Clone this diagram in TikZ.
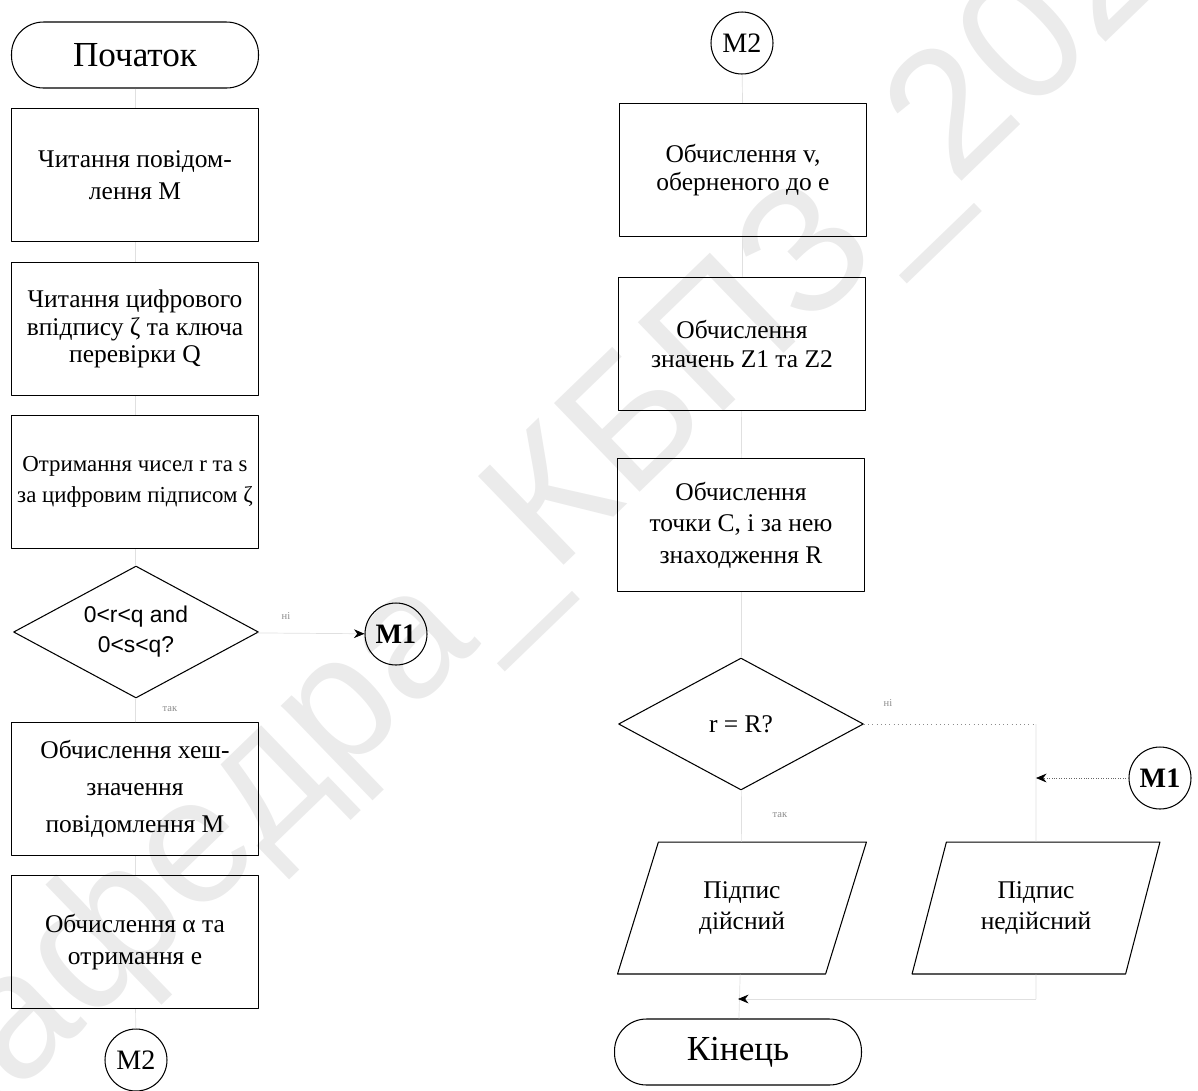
\documentclass[tikz,border=0pt]{standalone}
\usepackage{fontspec}
\setmainfont{Liberation Serif}
\newfontfamily\sansfnt{Liberation Sans}
\usetikzlibrary{shapes.geometric,arrows.meta}
\begin{document}
\begin{tikzpicture}[x=0.02cm,y=-0.02cm,line join=round,
	txt/.style={font=\fontsize{14.5}{18}\selectfont,align=center},
	term/.style={draw,line width=0.6pt,rounded corners=0.64cm,minimum width=4.94cm,minimum height=1.32cm,align=center,font=\fontsize{20}{24}\selectfont},
	proc/.style={txt,draw,line width=0.6pt,minimum width=4.94cm,minimum height=2.66cm,inner sep=1pt},
	cond/.style={txt,draw,diamond,aspect=1.85,line width=0.6pt,minimum width=4.9cm,minimum height=2.64cm,inner sep=0pt},
	io/.style={txt,draw,trapezium,trapezium left angle=69,trapezium right angle=111,trapezium stretches=true,line width=0.6pt,minimum width=4.98cm,minimum height=2.64cm,inner sep=1pt},
	conn/.style={draw,circle,line width=0.6pt,minimum size=1.24cm,inner sep=0pt,font=\fontsize{16}{18}\selectfont},
	flow/.style={draw=black!12,line width=0.4pt},
	tip/.style={flow,-{Stealth[color=black,length=6pt,width=5pt]}},
	lbl/.style={font=\fontsize{6}{7}\selectfont,text=black!45,inner sep=0pt}]
	\useasboundingbox (0,0) rectangle (1198,1090);
	% watermark
	\node[rotate=44,text=black!8,font=\sansfnt\fontsize{102}{102}\selectfont] (wm) at (560,505) {Кафедра\_КБПЗ\_2023};
	% left column
	\node[term] (start) at (135,55) {Початок};
	\node[proc] (read1) at (135,175) {Читання повідом-\\лення M};
	\node[proc,font=\fontsize{14.5}{15.5}\selectfont] (read2) at (135,329) {Читання цифрового\\впідпису ζ та ключа\\перевірки Q};
	\node[proc,font=\fontsize{13}{18}\selectfont] (getrs) at (135,482) {Отримання чисел r та s\\за цифровим підписом ζ};
	\node[cond,font=\sansfnt\fontsize{13}{17}\selectfont] (chk1) at (136,632) {0<r<q and\\0<s<q?};
	\node[conn,font=\bfseries\fontsize{16}{18}\selectfont] (m1a) at (396,634) {M1};
	\node[proc,font=\fontsize{14.5}{21}\selectfont] (hash) at (135,789) {Обчислення хеш-\\значення\\повідомлення M};
	\node[proc] (alpha) at (135,942) {Обчислення α та\\отримання e};
	\node[conn] (m2a) at (136,1060) {M2};
	\node[lbl] (no1) at (286,616) {ні};
	\node[lbl] (yes1) at (170,709) {так};
	% right column
	\node[conn] (m2b) at (742,43) {M2};
	\node[proc,font=\fontsize{14.5}{16}\selectfont] (inv) at (743,170) {Обчислення v,\\оберненого до e};
	\node[proc,font=\fontsize{14.5}{16}\selectfont] (zz) at (742,344) {Обчислення\\значень Z1 та Z2};
	\node[proc] (pntc) at (741,525) {Обчислення\\точки C, і за нею\\знаходження R};
	\node[cond] (chk2) at (741,724) {r = R?};
	\node[conn,font=\bfseries\fontsize{16}{18}\selectfont] (m1b) at (1160,778) {M1};
	\node[io] (ok) at (742,908) {Підпис\\дійсний};
	\node[io] (bad) at (1036,908) {Підпис\\недійсний};
	\node[term] (end) at (738,1052) {Кінець};
	\node[lbl] (no2) at (888,703) {ні};
	\node[lbl] (yes2) at (780,815) {так};
	\coordinate (cr) at (1036,724);
	\coordinate (jn) at (1036,999);
	% connectors
	\draw[flow] (start)--(read1);
	\draw[flow] (read1)--(read2);
	\draw[flow] (read2)--(getrs);
	\draw[flow] (getrs)--(chk1);
	\draw[tip] (chk1)--(m1a);
	\draw[flow] (chk1)--(hash);
	\draw[flow] (hash)--(alpha);
	\draw[flow] (alpha)--(m2a);
	\draw[flow] (m2b)--(inv);
	\draw[flow] (inv)--(zz);
	\draw[flow] (zz)--(pntc);
	\draw[flow] (pntc)--(chk2);
	\draw[flow] (chk2)--(ok);
	\draw[draw=black!45,dotted] (chk2.east)--(cr);
	\draw[flow] (cr)--(bad);
	\draw[black!60,densely dotted,-{Stealth[color=black,length=6pt,width=5pt]}] (m1b)--(m1b-|cr);
	\draw[flow] (ok)--(end);
	\draw[flow] (bad)--(jn);
	\draw[tip] (jn)--(jn-|end);
\end{tikzpicture}
\end{document}
